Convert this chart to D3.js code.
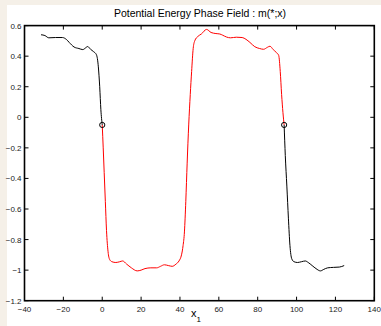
<!DOCTYPE html>
<html>
<head>
<meta charset='utf-8'>
<title>Potential Energy Phase Field</title>
<script src='https://cdn.jsdelivr.net/npm/d3@7'></script>
<style>
body { margin:0; background:#f5f0e8; }
text { font-family: 'Liberation Sans', Arial, sans-serif; }
</style>
</head>
<body>
<div id='chart'></div>
<script>
// curve pieces (x, m)
var leftBranch = [[-31.5,0.54],[-29.5,0.535],[-27.5,0.52],[-24,0.522],[-20.5,0.522],[-18.5,0.51],[-17,0.49],[-14.5,0.46],[-12,0.45],[-10,0.443],[-8.5,0.455],[-7.5,0.463],[-6,0.445],[-4.5,0.43],[-3,0.41],[-2,0.33],[-1.3,0.2],[-0.7,0.05],[0,-0.05]];
var middleBranch = [[0,-0.05],[0.5,-0.2],[1,-0.36],[1.6,-0.55],[2.2,-0.74],[3,-0.88],[3.8,-0.93],[5,-0.945],[7,-0.95],[9,-0.945],[10.5,-0.94],[12.5,-0.96],[15,-0.985],[18,-1.005],[20,-1.0],[22,-0.99],[25,-0.985],[28,-0.985],[30,-0.975],[32,-0.965],[34,-0.97],[36,-0.975],[38,-0.96],[39.5,-0.94],[40.8,-0.9],[41.6,-0.84],[42.3,-0.75],[43,-0.55],[43.7,-0.3],[44.5,-0.05],[45.3,0.15],[46,0.3],[46.8,0.45],[47.6,0.5],[49.3,0.53],[51,0.545],[53.7,0.575],[56,0.555],[58.5,0.548],[60.5,0.545],[62,0.537],[64,0.525],[66,0.52],[69,0.524],[72,0.522],[74,0.51],[76,0.49],[78.5,0.462],[81,0.45],[83,0.445],[85,0.458],[86.3,0.465],[88,0.443],[89.5,0.425],[90.8,0.405],[91.6,0.3],[92.3,0.15],[93,0.03],[93.6,-0.05]];
var rightBranch = [[93.6,-0.05],[94.2,-0.25],[95,-0.45],[95.8,-0.66],[96.6,-0.84],[97.5,-0.925],[98.7,-0.945],[100.5,-0.95],[102.5,-0.945],[104.5,-0.94],[106,-0.95],[108,-0.97],[110,-0.99],[112.3,-1.005],[114,-0.995],[116,-0.985],[119,-0.982],[122,-0.98],[124.5,-0.97]];
var junctions = [[0,-0.05],[93.6,-0.05]];
var xTicks = [-40,-20,0,20,40,60,80,100,120,140];
var yTicks = [-1.2,-1,-0.8,-0.6,-0.4,-0.2,0,0.2,0.4,0.6];

var W = 381, H = 326;
var svg = d3.select('#chart').append('svg').attr('width', W).attr('height', H);
svg.append('rect').attr('x',7).attr('y',5).attr('width',W-7).attr('height',H-5).attr('fill','#fff');

var x = d3.scaleLinear().domain([-40,140]).range([24.5,374.3]);
var y = d3.scaleLinear().domain([-1.2,0.6]).range([300.7,25.6]);

var fmt = function(d){ return d3.format('')(d).replace('-', '\u2212'); };

// ticks, inward on all four sides
var tk = 4;
var g = svg.append('g');
xTicks.forEach(function(d){
  g.append('line').attr('x1',x(d)).attr('x2',x(d)).attr('y1',y(-1.2)).attr('y2',y(-1.2)-tk).attr('stroke','#000');
  g.append('line').attr('x1',x(d)).attr('x2',x(d)).attr('y1',y(0.6)).attr('y2',y(0.6)+tk).attr('stroke','#000');
  g.append('text').attr('x',x(d)).attr('y',y(-1.2)+11).attr('text-anchor','middle')
    .style('font-size','8px').attr('fill','#222').text(fmt(d));
});
yTicks.forEach(function(d){
  g.append('line').attr('x1',x(-40)).attr('x2',x(-40)+tk).attr('y1',y(d)).attr('y2',y(d)).attr('stroke','#000');
  g.append('line').attr('x1',x(140)).attr('x2',x(140)-tk).attr('y1',y(d)).attr('y2',y(d)).attr('stroke','#000');
  g.append('text').attr('x',x(-40)-3).attr('y',y(d)+3).attr('text-anchor','end')
    .style('font-size','8px').attr('fill','#222').text(fmt(d));
});

// box
svg.append('rect').attr('x',x(-40)).attr('y',y(0.6)).attr('width',x(140)-x(-40)).attr('height',y(-1.2)-y(0.6))
  .attr('fill','none').attr('stroke','#000').attr('stroke-width',1.6);

var line = d3.line().x(function(d){return x(d[0]);}).y(function(d){return y(d[1]);}).curve(d3.curveMonotoneX);

svg.append('path').datum(leftBranch).attr('d',line).attr('fill','none').attr('stroke','#000').attr('stroke-width',1);
svg.append('path').datum(middleBranch).attr('d',line).attr('fill','none').attr('stroke','#f00').attr('stroke-width',1);
svg.append('path').datum(rightBranch).attr('d',line).attr('fill','none').attr('stroke','#000').attr('stroke-width',1);

svg.selectAll('circle.j').data(junctions).enter().append('circle')
  .attr('cx',function(d){return x(d[0]);}).attr('cy',function(d){return y(d[1]);}).attr('r',2.6)
  .attr('fill','none').attr('stroke','#000').attr('stroke-width',1);

svg.append('text').attr('x',200).attr('y',17).attr('text-anchor','middle').style('font-size','10.5px')
  .text('Potential Energy Phase Field : m(*;x)');

var xl = svg.append('text').attr('x',196).attr('y',317).attr('text-anchor','middle').style('font-size','11px');
xl.append('tspan').text('x');
xl.append('tspan').attr('dy',5).style('font-size','8px').text('1');
</script>
</body>
</html>
